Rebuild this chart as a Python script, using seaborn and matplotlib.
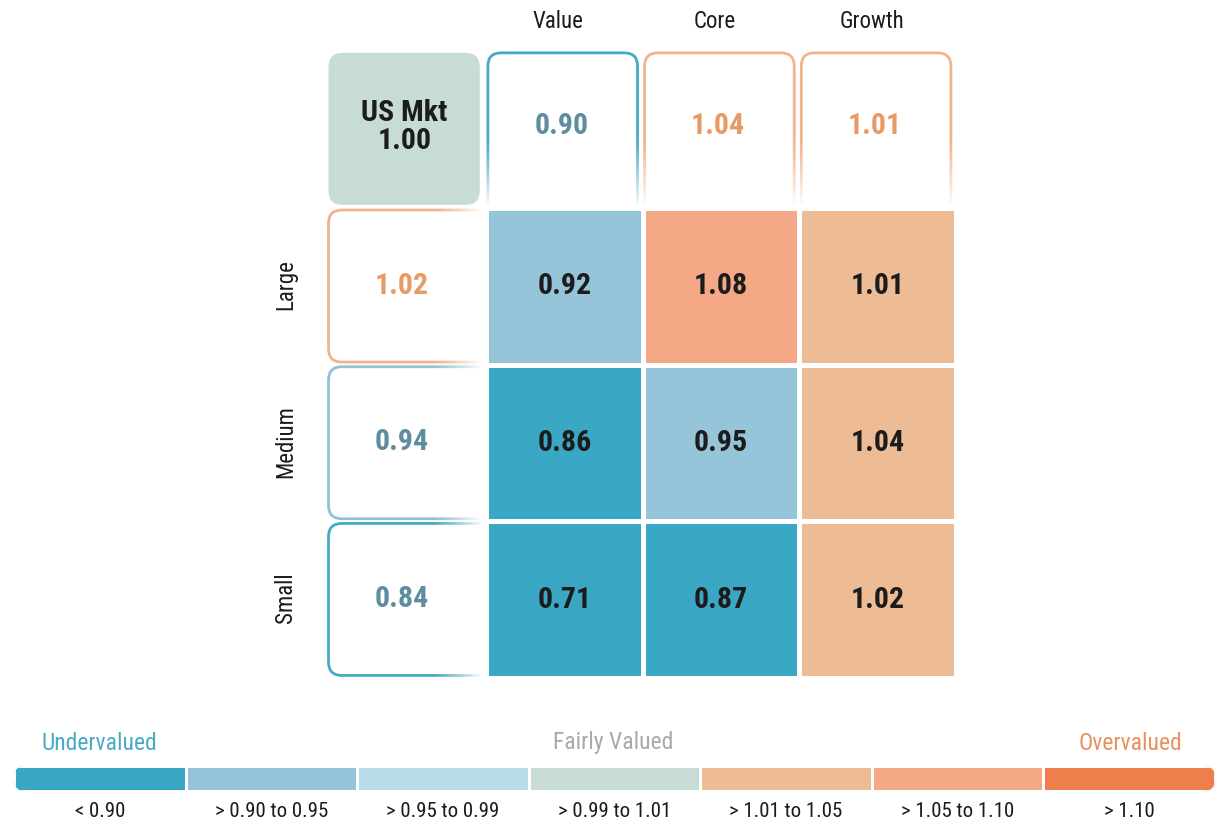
import numpy as np
import matplotlib
matplotlib.use('Agg')
import matplotlib.pyplot as plt
import seaborn as sns
from matplotlib import font_manager
from matplotlib.colors import ListedColormap
from matplotlib.patches import FancyBboxPatch

# ---- data ----
styles = ['Value', 'Core', 'Growth']
sizes = ['Large', 'Medium', 'Small']
grid_values = [[0.92, 1.08, 1.01],
               [0.86, 0.95, 1.04],
               [0.71, 0.87, 1.02]]
grid_bands = [[1, 5, 4],
              [0, 1, 4],
              [0, 0, 4]]
style_values = [0.90, 1.04, 1.01]
style_bands = [0, 4, 4]
size_values = [1.02, 0.94, 0.84]
size_bands = [4, 1, 0]
market_label = 'US Mkt'
market_value = 1.00
band_labels = ['< 0.90', '> 0.90 to 0.95', '> 0.95 to 0.99', '> 0.99 to 1.01',
               '> 1.01 to 1.05', '> 1.05 to 1.10', '> 1.10']
band_colors = ['#3aa8c4', '#96c4d8', '#b6dce8', '#c6dcd4',
               '#edbc94', '#f4a886', '#ee7e4c']
border_colors = ['#45a9c7', '#92c1d5', '#b6dce8', '#c6dcd4',
                 '#f0b38a', '#f2a27c', '#ee7e4c']

sns.set_style('white')


def pick_font():
    # a condensed face is closest to the original; fall back to narrower fonts
    for fam in ['Roboto Condensed', 'Liberation Sans Narrow', 'Open Sans Condensed']:
        try:
            font_manager.findfont(fam, fallback_to_default=False)
            return fam, None, 1.0
        except ValueError:
            pass
    p = font_manager.findfont(font_manager.FontProperties(family='DejaVu Sans',
                                                          stretch='condensed'))
    if 'Condensed' in p:
        return 'DejaVu Sans', 'condensed', 0.95
    return 'Roboto', None, 0.88


FAM, STRETCH, k = pick_font()
FONT = [FAM, 'DejaVu Sans']
plt.rcParams['font.family'] = FONT
if STRETCH:
    plt.rcParams['font.stretch'] = STRETCH

UNDER_TXT = '#5e8d9f'
OVER_TXT = '#e89a66'
DARK = '#1c1c1c'


def faded_border(ax, x0, y0, across, depth, color, side, fade_from, r=0.085, lw=2.0):
    '''rounded outline open on the far side, washed out towards it'''
    if side == 'top':
        box = (x0, y0, across, depth + r)
    else:
        box = (x0, y0, depth + r, across)
    ax.add_patch(FancyBboxPatch(box[:2], box[2], box[3],
                                boxstyle=f'round,pad=0,rounding_size={r}',
                                facecolor='white', edgecolor=color, lw=lw,
                                zorder=2, clip_on=False))
    # white gradient laid over the far part
    g = np.linspace(0, 1, 200) ** 1.2
    img = np.ones((1, 200, 4))
    img[0, :, 3] = g
    pad = 0.012
    if side == 'top':
        img = img.transpose(1, 0, 2)
        ext = (x0 - pad, x0 + across + pad, y0 + depth + pad, y0 + depth * fade_from)
    else:
        ext = (x0 + depth * fade_from, x0 + depth + pad, y0 + across + pad, y0 - pad)
    ax.imshow(img, extent=ext, aspect='auto', zorder=3, interpolation='bilinear')
    # cut the part that runs past the open edge
    if side == 'top':
        ax.fill_between([x0 - 0.02, x0 + across + 0.02], y0 + depth, y0 + depth + r + 0.02,
                        color='white', zorder=3, lw=0)
    else:
        ax.fill_betweenx([y0 - 0.02, y0 + across + 0.02], x0 + depth, x0 + depth + r + 0.02,
                         color='white', zorder=3, lw=0)


fig = plt.figure(figsize=(12.17, 8.25), dpi=100)
fig.patch.set_facecolor('white')

W, H = 1217, 825
unit = 156.7
left_px, right_px = 486 - 1.03 * unit, 486 + 3 * unit
top_px, bot_px = 208 - 1.01 * unit, 208 + 3 * unit
ax = fig.add_axes([left_px / W, (H - bot_px) / H,
                   (right_px - left_px) / W, (bot_px - top_px) / H])

cmap = ListedColormap(band_colors)
sns.heatmap(np.array(grid_bands), cmap=cmap, vmin=-0.5, vmax=6.5,
            annot=np.array(grid_values), fmt='.2f', cbar=False,
            linewidths=2.3, linecolor='white', ax=ax,
            annot_kws={'fontsize': 21.5 * k, 'fontweight': 'bold', 'color': DARK},
            xticklabels=False, yticklabels=False)
ax.collections[0].set_zorder(4)
for t in ax.texts:
    t.set_zorder(6)

# column headers (style averages)
for j, (lab, val, b) in enumerate(zip(styles, style_values, style_bands)):
    faded_border(ax, j + 0.012, -0.99, 0.955, 0.97, border_colors[b], 'top', 0.55)
    ax.text(j + 0.48, -0.525, f'{val:.2f}', ha='center', va='center', fontsize=21.5 * k,
            fontweight='bold', color=UNDER_TXT if b <= 3 else OVER_TXT, zorder=6)
    ax.text(j + 0.46, -1.19, lab, ha='center', va='center', fontsize=16.5,
            color=DARK, clip_on=False)

# row headers (size averages)
for i, (lab, val, b) in enumerate(zip(sizes, size_values, size_bands)):
    faded_border(ax, -1.005, i + 0.013, 0.97, 0.97, border_colors[b], 'left', 0.68)
    ax.text(-0.54, i + 0.495, f'{val:.2f}', ha='center', va='center', fontsize=21.5 * k,
            fontweight='bold', color=UNDER_TXT if b <= 3 else OVER_TXT, zorder=6)
    ax.text(-1.28, i + 0.49, lab, ha='center', va='center', fontsize=16.5,
            rotation=90, color=DARK, clip_on=False)

# market box
ax.add_patch(FancyBboxPatch((-1.005, -0.99), 0.965, 0.97,
                            boxstyle='round,pad=0,rounding_size=0.09',
                            facecolor=band_colors[3], edgecolor='none', zorder=5))
ax.text(-0.52, -0.52, f'{market_label}\n{market_value:.2f}', ha='center',
        va='center', fontsize=21.5 * k, fontweight='bold', color=DARK,
        linespacing=1.0, zorder=6)

ax.set_xlim(-1.03, 3.0)
ax.set_ylim(3.0, -1.01)
ax.axis('off')

# ---- legend bar ----
lax = fig.add_axes([14 / W, (H - 791) / H, 1201 / W, 25 / H])
sns.heatmap(np.arange(len(band_labels))[None, :], cmap=cmap, vmin=-0.5, vmax=6.5,
            cbar=False, linewidths=2, linecolor='white', ax=lax,
            xticklabels=band_labels, yticklabels=False)
rr = 11 / (1201 / 7)
clip = FancyBboxPatch((0, 0), 7, 1, boxstyle=f'round,pad=0,rounding_size={rr}',
                      mutation_aspect=(11 / 25) / rr, transform=lax.transData)
lax.collections[0].set_clip_path(clip)
lax.tick_params(axis='x', length=0, pad=8, labelsize=15 * k, labelcolor=DARK,
                rotation=0)
for s in lax.spines.values():
    s.set_visible(False)

lax.text(0.163, -0.92, 'Undervalued', ha='left', va='center', fontsize=17 * k,
         color='#4aaac6', clip_on=False)
lax.text(3.49, -0.92, 'Fairly Valued', ha='center', va='center', fontsize=17 * k,
         color='#a9a9a9', clip_on=False)
lax.text(6.81, -0.92, 'Overvalued', ha='right', va='center', fontsize=17 * k,
         color='#e8915e', clip_on=False)

fig.savefig('out.png', dpi=100, facecolor='white')
